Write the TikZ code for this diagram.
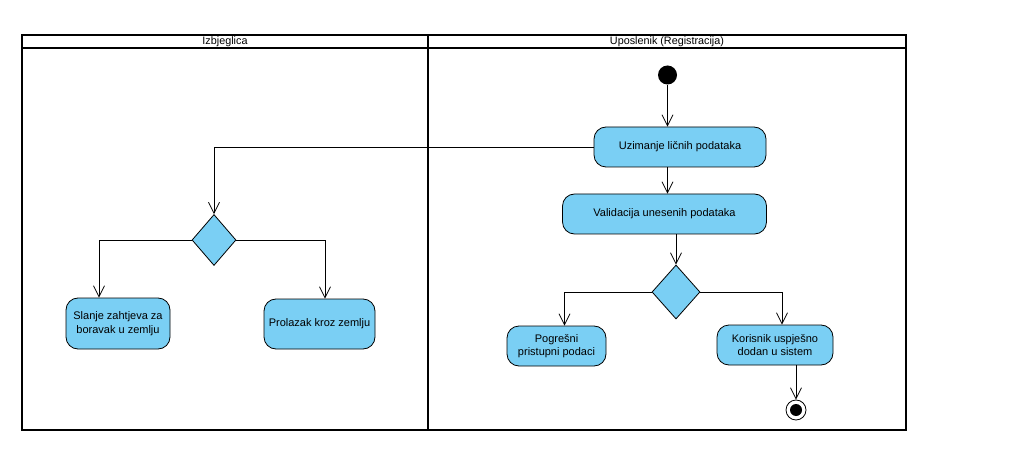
\documentclass[tikz,border=0pt]{standalone}
\usepackage{fontspec}
\setmainfont{Liberation Sans}
\usetikzlibrary{arrows.meta,shapes.geometric,calc}
\definecolor{actblue}{RGB}{122,207,244}
\begin{document}
\begin{tikzpicture}[x=1pt,y=-1pt,
  every node/.style={font=\fontsize{11}{13.5}\selectfont},
  act/.style={rectangle, rounded corners=12pt, draw, line width=0.8pt, fill=actblue,
              align=center, inner sep=0pt, minimum height=40pt},
  decision/.style={diamond, draw, line width=0.8pt, fill=actblue, inner sep=0pt,
                   minimum width=46pt, minimum height=52pt},
  flow/.style={draw, line width=0.8pt, -{Straight Barb[length=11pt,width=11pt,line width=0.8pt]}},
  lane/.style={draw, line width=1.5pt},
  header/.style={font=\fontsize{10.8}{12}\selectfont}
]
\useasboundingbox (0,0) rectangle (1012,449);
\fill[white] (0,0) rectangle (1012,449);

% swimlanes
\draw[lane] (22,35) rectangle (906,430);
\draw[line width=1.2pt] (22,48) -- (906,48);
\draw[lane] (428,35) -- (428,430);
\node[header] (laneA) at (225,42) {Izbjeglica};
\node[header] (laneB) at (667,42) {Uposlenik (Registracija)};

% Uposlenik activities
\node[circle, fill=black, inner sep=0pt, minimum size=19pt] (start) at (667.5,75) {};
\node[act, minimum width=172pt] (uz) at (680,147) {Uzimanje ličnih podataka};
\node[act, minimum width=204pt] (val) at (664.5,214) {Validacija unesenih podataka};
\node[decision, minimum width=48pt, minimum height=54pt] (d2) at (676,292) {};
\node[act, minimum width=99pt] (pog) at (556.5,346) {Pogrešni\\pristupni podaci};
\node[act, minimum width=116pt] (kor) at (775,345) {Korisnik uspješno\\dodan u sistem};
\node[circle, draw, line width=0.8pt, fill=white, inner sep=0pt, minimum size=20pt] (end) at (796,410) {};
\node[circle, fill=black, inner sep=0pt, minimum size=12pt] (endin) at (end) {};

% Izbjeglica activities
\node[decision, minimum width=44pt, minimum height=51pt] (d1) at (214,240) {};
\node[act, minimum width=104pt, minimum height=51pt] (sla) at (118,323.5) {Slanje zahtjeva za\\boravak u zemlju};
\node[act, minimum width=111pt, minimum height=50pt] (pro) at (319.5,324) {Prolazak kroz zemlju};

% control flows
\draw[flow] (start.south) -- (start |- uz.north);
\draw[flow] (start |- uz.south) -- (start |- val.north);
\draw[flow] (d2 |- val.south) -- (d2.north);
\draw[flow] (d2.west) -| ([xshift=8pt]pog.north);
\draw[flow] (d2.east) -| ([xshift=7pt]kor.north);
\draw[flow] ([xshift=21pt]kor.south) -- (end.north);
\draw[flow] (uz.west) -| (d1.north);
\draw[flow] (d1.west) -| ([xshift=-19pt]sla.north);
\draw[flow] (d1.east) -| ([xshift=5.5pt]pro.north);
\end{tikzpicture}
\end{document}
